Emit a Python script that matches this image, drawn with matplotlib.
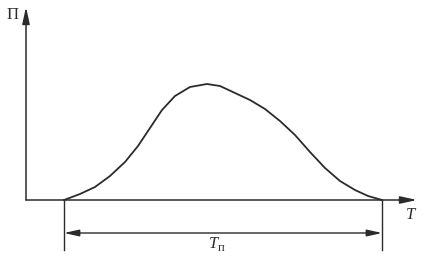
import matplotlib.pyplot as plt

# curve (x in px from the origin, height in px above the axis)
T = [38, 54, 69, 84, 99, 112, 124, 136, 149, 164, 181, 194, 209, 224, 239,
     254, 269, 284, 299, 314, 329, 342, 356]
P = [0, 6, 13, 24, 38, 54, 72, 90, 104, 113, 116, 114, 107, 100, 91,
     79, 65, 48, 32, 19, 10, 4, 0]
t_start, t_end = T[0], T[-1]

col = '#2b2b2b'
fig = plt.figure(figsize=(4.29, 2.60), dpi=100)
ax = fig.add_axes([0, 0, 1, 1])
ax.set_xlim(-26, 403)
ax.set_ylim(-60, 200)
ax.axis('off')

arrow = dict(arrowstyle='-|>,head_length=1.0,head_width=0.22', color=col,
             lw=1.1, shrinkA=0, shrinkB=0)
ax.annotate('', xy=(391, 0), xytext=(0, 0), arrowprops=arrow)
ax.annotate('', xy=(0, 193), xytext=(0, 0), arrowprops=arrow)

ax.plot(T, P, color=col, lw=1.3, solid_joinstyle='round')

ax.plot([t_start, t_start], [0, -50], color=col, lw=1.0)
ax.plot([t_end, t_end], [0, -50], color=col, lw=1.0)
darrow = dict(arrowstyle='<|-|>,head_length=0.9,head_width=0.2', color=col,
              lw=1.0, shrinkA=0, shrinkB=0)
ax.annotate('', xy=(t_end, -33), xytext=(t_start, -33), arrowprops=darrow)

ax.text(-13, 185, 'П', family='Liberation Serif', fontsize=12, color=col,
        ha='center', va='center')
ax.text(385, -15, 'T', family='Liberation Serif', style='italic', fontsize=12,
        color=col, ha='center', va='center')
ax.text(192, -44, 'T', family='Liberation Serif', style='italic', fontsize=12,
        color=col, ha='right', va='center')
ax.text(192, -48, 'п', family='Liberation Serif', fontsize=9,
        color=col, ha='left', va='center')

fig.savefig('out.png', dpi=100)
